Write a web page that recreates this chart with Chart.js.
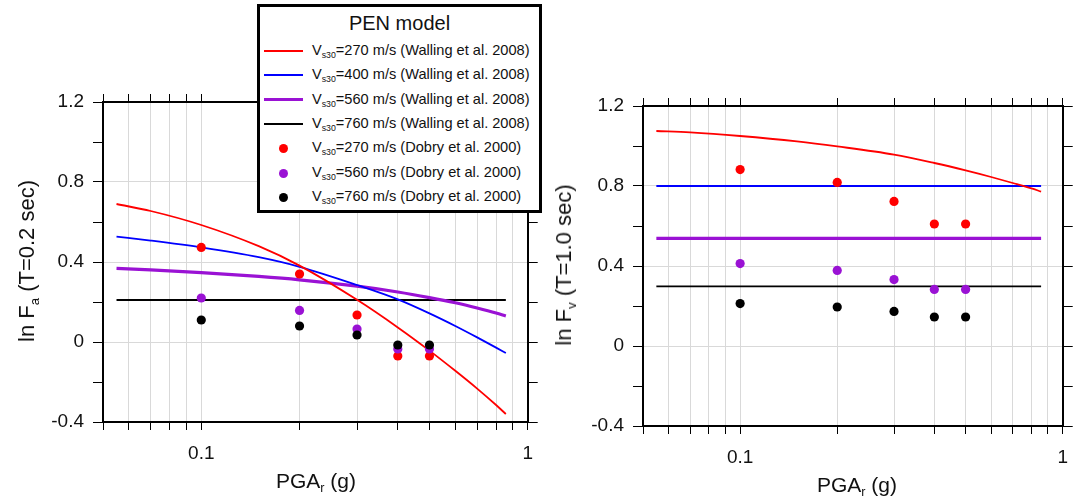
<!DOCTYPE html>
<html>
<head>
<meta charset="utf-8">
<script src="https://cdn.jsdelivr.net/npm/chart.js@4.4.0/dist/chart.umd.min.js"></script>
<style>
  body { margin: 0; background: #fff; font-family: "Liberation Sans", Arial, sans-serif; color: #111; }
  #wrap { position: relative; width: 1080px; height: 497px; overflow: hidden; }
  canvas { position: absolute; top: 0; }
  .ytitle { position: absolute; font-size: 22px; white-space: nowrap; transform: translate(-50%, -50%) rotate(-90deg); }
  .xtitle { position: absolute; font-size: 21px; white-space: nowrap; transform: translate(-50%, -50%); }
  sub { font-size: 60%; vertical-align: -0.35em; line-height: 0; }
  #legend { position: absolute; left: 257px; top: 4px; width: 285px; height: 209px; box-sizing: border-box; border: 3px solid #000; background: #fff; }
  #legend .ttl { position: absolute; left: 0; right: 0; top: 5px; text-align: center; font-size: 20px; }
  #legend .row { position: absolute; left: 0; height: 24px; width: 280px; }
  #legend .txt { position: absolute; left: 52px; top: 3px; font-size: 14.6px; white-space: nowrap; }
  #legend .ln { position: absolute; left: 4px; width: 39px; }
  #legend .dot { position: absolute; left: 19px; top: 8px; width: 9px; height: 9px; border-radius: 50%; }
</style>
</head>
<body>
<div id="wrap">
  <canvas id="grafico1" width="545" height="497" style="left:0px"></canvas>
  <canvas id="grafico2" width="535" height="497" style="left:545px"></canvas>
  <div class="ytitle" style="left:27px; top:261px">ln F<sub>a</sub> (T=0.2 sec)</div>
  <div class="ytitle" style="left:564px; top:265px">ln F<sub>v</sub> (T=1.0 sec)</div>
  <div class="xtitle" style="left:316px; top:481px">PGA<sub>r</sub> (g)</div>
  <div class="xtitle" style="left:857px; top:485px">PGA<sub>r</sub> (g)</div>
  <div id="legend"><div class="ttl">PEN model</div></div>
</div>
<script>
// eixo x (PGAr em g) - escala log
const xTickValues = [0.05, 0.06, 0.07, 0.08, 0.09, 0.1, 0.2, 0.3, 0.4, 0.5, 0.6, 0.7, 0.8, 0.9, 1];
const xLabelValues = [0.1, 1];
const yLabelValues = [-0.4, 0, 0.4, 0.8, 1.2];

// curvas Walling et al. 2008
const pgaCurve = [0.055, 0.07, 0.1, 0.15, 0.2, 0.3, 0.4, 0.5, 0.6, 0.7, 0.8, 0.857];
const faWalling270 = [0.69, 0.655, 0.585, 0.479, 0.382, 0.211, 0.073, -0.043, -0.144, -0.233, -0.315, -0.36];
const faWalling400 = [0.527, 0.507, 0.473, 0.424, 0.376, 0.285, 0.213, 0.143, 0.08, 0.023, -0.028, -0.055];
const faWalling560 = [0.368, 0.361, 0.347, 0.328, 0.311, 0.279, 0.25, 0.222, 0.196, 0.17, 0.145, 0.13];
const faWalling760 = [0.21, 0.21, 0.21, 0.21, 0.21, 0.21, 0.21, 0.21, 0.21, 0.21, 0.21, 0.21];
const fvWalling270 = [1.075, 1.068, 1.05, 1.023, 0.998, 0.957, 0.915, 0.878, 0.845, 0.815, 0.788, 0.772];
const fvWalling400 = [0.8, 0.8, 0.8, 0.8, 0.8, 0.8, 0.8, 0.8, 0.8, 0.8, 0.8, 0.8];
const fvWalling560 = [0.538, 0.538, 0.538, 0.538, 0.538, 0.538, 0.538, 0.538, 0.538, 0.538, 0.538, 0.538];
const fvWalling760 = [0.298, 0.298, 0.298, 0.298, 0.298, 0.298, 0.298, 0.298, 0.298, 0.298, 0.298, 0.298];

// pontos Dobry et al. 2000
const pgaDots = [0.1, 0.2, 0.3, 0.4, 0.5];
const faDobry270 = [0.473, 0.34, 0.135, -0.07, -0.07];
const faDobry560 = [0.22, 0.158, 0.065, -0.035, -0.035];
const faDobry760 = [0.11, 0.08, 0.035, -0.015, -0.015];
const fvDobry270 = [0.882, 0.818, 0.723, 0.61, 0.61];
const fvDobry560 = [0.412, 0.378, 0.332, 0.283, 0.283];
const fvDobry760 = [0.212, 0.195, 0.173, 0.145, 0.145];

const curveLabels = ['270', '400', '560', '760'];
const dotLabels = ['270', '560', '760'];

const RED = '#ff0000', BLUE = '#0000ff', PURPLE = '#9a12d4', BLACK = '#000000';
const curveColors = [RED, BLUE, PURPLE, BLACK];
const curveWidths = [1.8, 1.8, 3.2, 1.8];
const dotColors = [RED, PURPLE, BLACK];
const FONT = '"Liberation Sans", Arial, sans-serif';

function pontos(xs, ys) {
  return xs.map((x, i) => ({ x: x, y: ys[i] }));
}

function fixSize(prop, val) {
  return s => { s[prop] = val; };
}

function criarGrafico(canvas, box, curvas, dots) {
  const datasets = [];
  dots.forEach((d, i) => {
    datasets.push({
      data: pontos(pgaDots, d), showLine: false, order: 2 - i,
      pointRadius: 4.6, pointBackgroundColor: dotColors[i], pointBorderWidth: 0
    });
  });
  curvas.forEach((c, i) => {
    datasets.push({
      data: pontos(pgaCurve, c), showLine: true, order: 3, pointRadius: 0,
      borderColor: curveColors[i], borderWidth: curveWidths[i], cubicInterpolationMode: 'monotone'
    });
  });

  const xTicks = s => { s.ticks = xTickValues.map(v => ({ value: v })); };
  const isYLabel = v => yLabelValues.some(t => Math.abs(t - v) < 1e-6);

  new Chart(canvas, {
    type: 'scatter',
    data: { datasets },
    options: {
      responsive: false, animation: false, devicePixelRatio: 1,
      layout: { padding: 0 },
      plugins: { legend: { display: false }, tooltip: { enabled: false } },
      scales: {
        x: {
          type: 'logarithmic', position: 'bottom', min: 0.05, max: 1,
          afterBuildTicks: xTicks, afterFit: fixSize('height', box.bottom),
          grid: { color: '#d9d9d9', tickColor: '#000', tickLength: 8, lineWidth: 1 },
          border: { color: '#000', width: 2 },
          ticks: {
            autoSkip: false, maxRotation: 0, padding: 12, color: '#111', font: { size: 19, family: FONT },
            callback: v => xLabelValues.includes(v) ? String(v) : ''
          }
        },
        x2: {
          type: 'logarithmic', position: 'top', axis: 'x', min: 0.05, max: 1,
          afterBuildTicks: xTicks, afterFit: fixSize('height', box.top),
          grid: { drawOnChartArea: false, tickColor: '#000', tickLength: 8 },
          border: { color: '#000', width: 2 },
          ticks: { display: false }
        },
        y: {
          type: 'linear', position: 'left', min: -0.4, max: 1.2,
          afterFit: fixSize('width', box.left),
          grid: {
            color: ctx => isYLabel(ctx.tick.value) ? '#d9d9d9' : 'rgba(0,0,0,0)',
            tickColor: '#000', tickLength: 10, lineWidth: 1
          },
          border: { color: '#000', width: 2 },
          ticks: {
            stepSize: 0.2, padding: 9, color: '#111', font: { size: 19, family: FONT },
            callback: v => isYLabel(v) ? (Math.abs(v) < 1e-6 ? '0' : v.toFixed(1)) : ''
          }
        },
        y2: {
          type: 'linear', position: 'right', axis: 'y', min: -0.4, max: 1.2,
          afterFit: fixSize('width', box.right),
          grid: { drawOnChartArea: false, tickColor: '#000', tickLength: 10 },
          border: { color: '#000', width: 2 },
          ticks: { display: false, stepSize: 0.2 }
        }
      }
    }
  });
}

criarGrafico(document.getElementById('grafico1'), { left: 103, right: 16, top: 102, bottom: 75 },
  [faWalling270, faWalling400, faWalling560, faWalling760], [faDobry270, faDobry560, faDobry760]);

criarGrafico(document.getElementById('grafico2'), { left: 98, right: 9, top: 106, bottom: 71 },
  [fvWalling270, fvWalling400, fvWalling560, fvWalling760], [fvDobry270, fvDobry560, fvDobry760]);

// legenda em HTML (por causa do subscrito s30)
const LEGENDA = document.getElementById('legend');
let linha = 0;
function addRow(sample, texto) {
  const row = document.createElement('div');
  row.className = 'row';
  row.style.top = (32 + linha * 24.3) + 'px';
  row.appendChild(sample);
  const t = document.createElement('div');
  t.className = 'txt';
  t.innerHTML = texto;
  row.appendChild(t);
  LEGENDA.appendChild(row);
  linha++;
}
curveLabels.forEach((v, i) => {
  const s = document.createElement('div');
  s.className = 'ln';
  s.style.background = curveColors[i];
  s.style.height = curveWidths[i] + 'px';
  s.style.top = (12 - curveWidths[i] / 2) + 'px';
  addRow(s, 'V<sub>s30</sub>=' + v + ' m/s (Walling et al. 2008)');
});
dotLabels.forEach((v, i) => {
  const s = document.createElement('div');
  s.className = 'dot';
  s.style.background = dotColors[i];
  addRow(s, 'V<sub>s30</sub>=' + v + ' m/s (Dobry et al. 2000)');
});
</script>
</body>
</html>
